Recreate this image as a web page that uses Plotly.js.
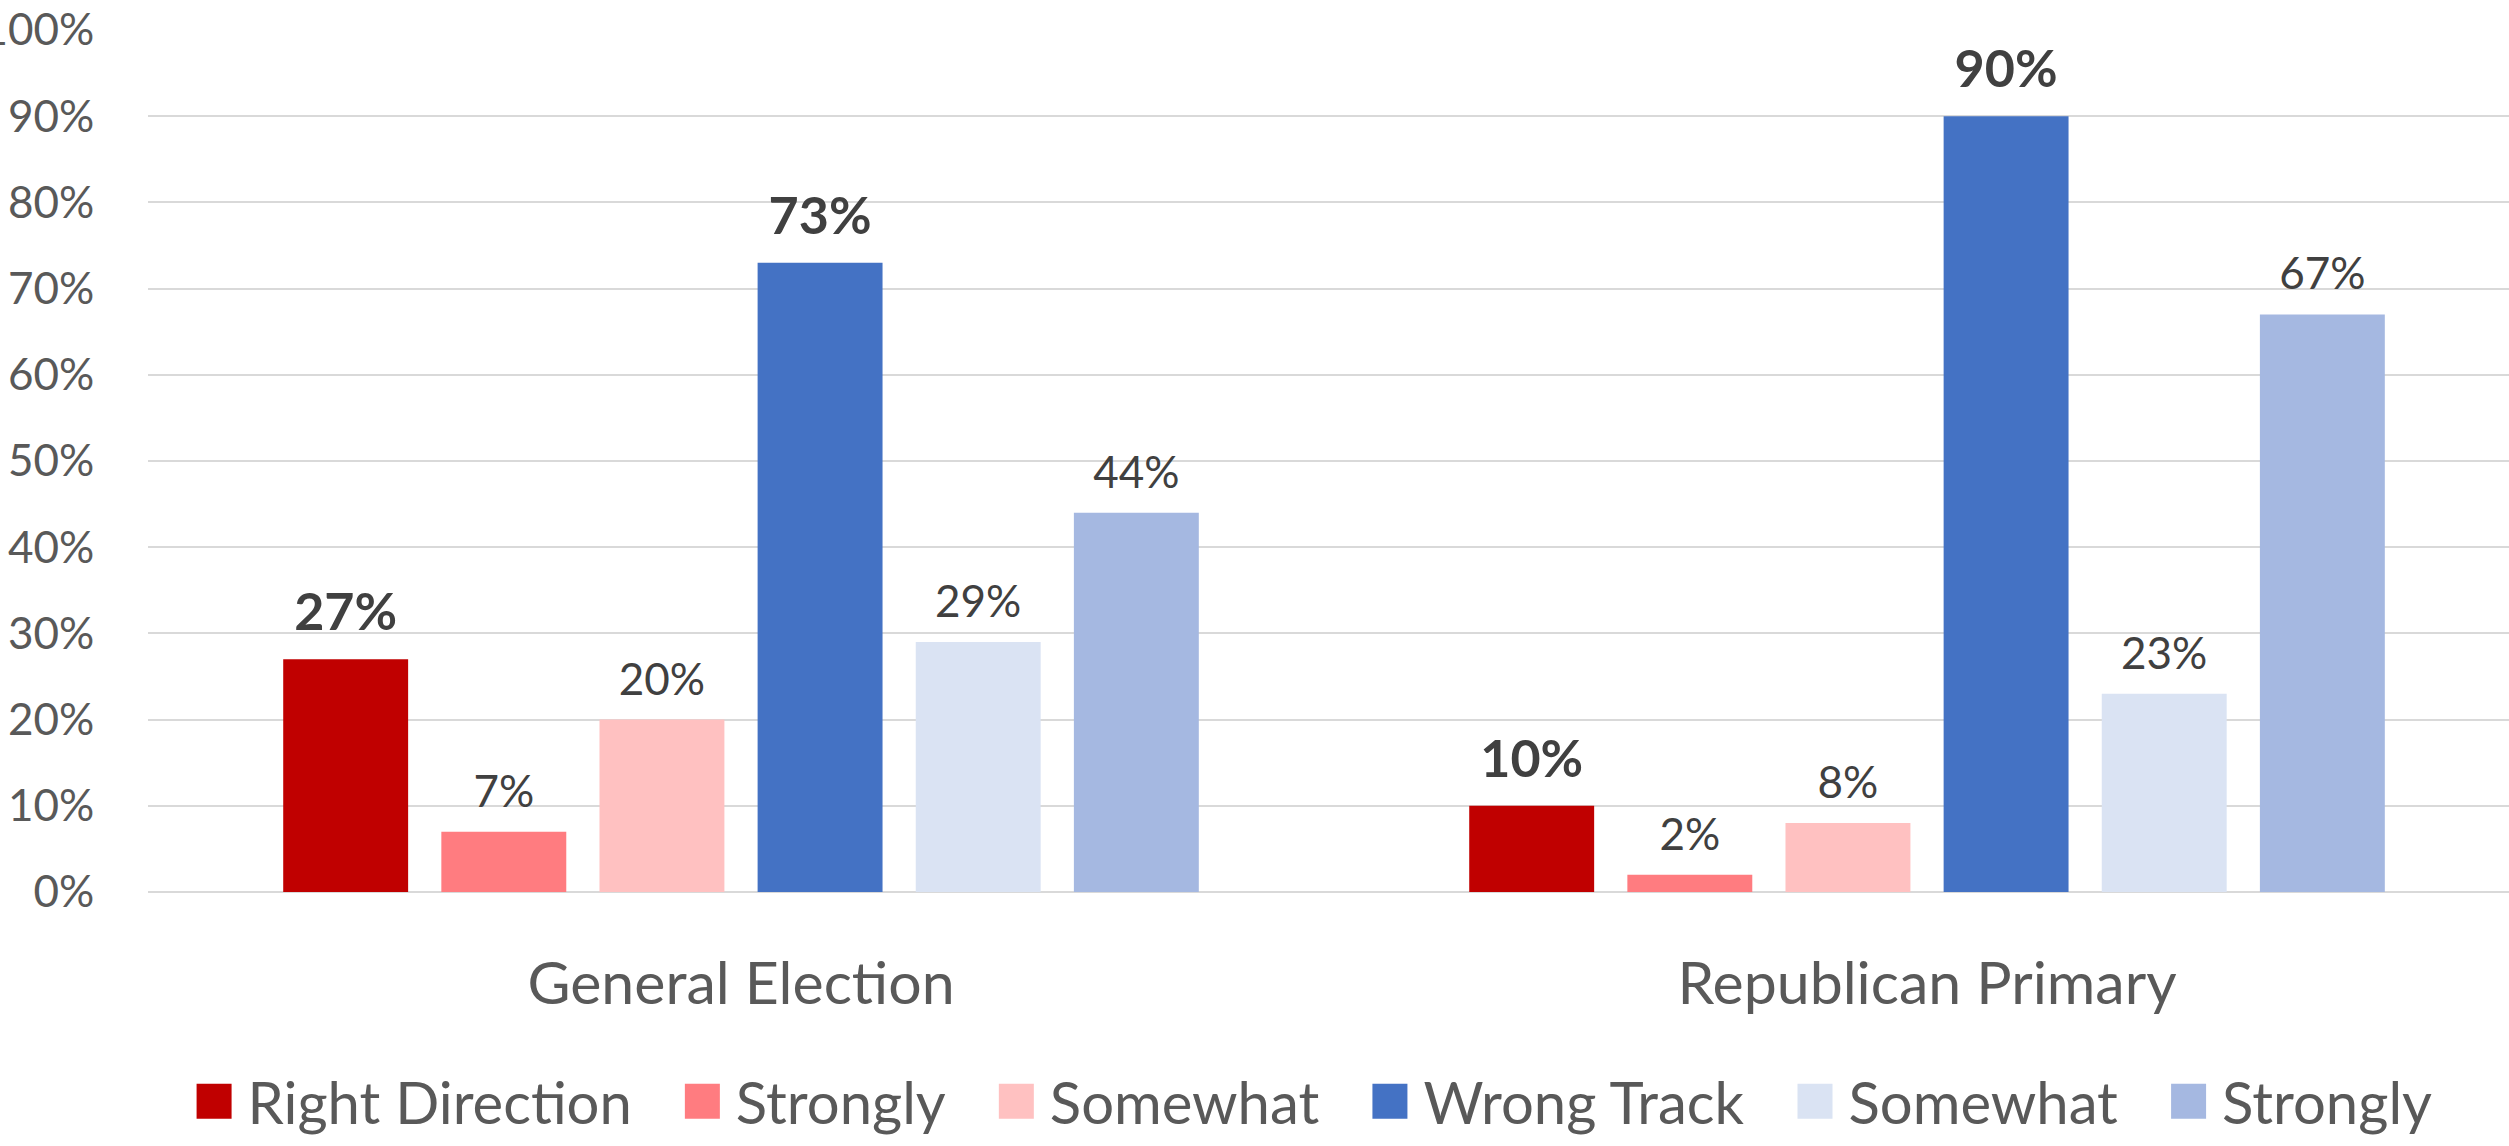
<!DOCTYPE html>
<html>
<head>
<meta charset="utf-8">
<script src="https://cdn.plot.ly/plotly-3.0.1.min.js"></script>
<style>html,body{margin:0;padding:0;background:#fff;overflow:hidden;}#chart{width:2509px;height:1146px;}</style>
</head>
<body>
<div id="chart"></div>
<script>
const categories = ['General Election', 'Republican Primary'];
const seriesNames = ['Right Direction', 'Strongly', 'Somewhat', 'Wrong Track', 'Somewhat', 'Strongly'];
const rightDirection = [0.27, 0.10];
const rightStrongly = [0.07, 0.02];
const rightSomewhat = [0.20, 0.08];
const wrongTrack = [0.73, 0.90];
const wrongSomewhat = [0.29, 0.23];
const wrongStrongly = [0.44, 0.67];
const yTickValues = [0, 0.1, 0.2, 0.3, 0.4, 0.5, 0.6, 0.7, 0.8, 0.9, 1.0];

const seriesValues = [rightDirection, rightStrongly, rightSomewhat, wrongTrack, wrongSomewhat, wrongStrongly];
const colors = ['#C00000', '#FF7C80', '#FFC1C1', '#4472C4', '#DAE3F3', '#A5B8E1'];
const isMain = [true, false, false, true, false, false];
const FONT = 'Lato, "Open Sans", sans-serif';

const traces = seriesValues.map((vals, i) => ({
  type: 'bar',
  name: seriesNames[i],
  x: categories,
  y: vals,
  marker: {color: colors[i], line: {width: 0}},
  text: vals.map(v => Math.round(v * 100) + '%'),
  textposition: 'outside',
  cliponaxis: false,
  textfont: isMain[i]
    ? {family: FONT, size: 52, color: '#404040', weight: 'bold'}
    : {family: FONT, size: 44, color: '#404040'},
  hoverinfo: 'skip'
}));

const layout = {
  width: 2509,
  height: 1146,
  margin: {l: 148, r: 0, t: 30, b: 249},
  paper_bgcolor: '#ffffff',
  plot_bgcolor: '#ffffff',
  barmode: 'group',
  bargap: 0.2,
  bargroupgap: 0.21,
  font: {family: FONT, color: '#595959'},
  showlegend: true,
  legend: {
    orientation: 'h',
    x: 0.485, xanchor: 'center',
    y: -0.243, yanchor: 'middle',
    font: {family: FONT, size: 58, color: '#595959'},
    itemwidth: 89,
    traceorder: 'normal',
    bgcolor: 'rgba(0,0,0,0)'
  },
  xaxis: {
    type: 'category',
    range: [-0.5, 1.4907],
    showgrid: false,
    showline: false,
    ticks: 'outside',
    ticklen: 40,
    tickcolor: 'rgba(0,0,0,0)',
    tickfont: {family: FONT, size: 59, color: '#595959'}
  },
  yaxis: {
    range: [0, 1],
    tickvals: yTickValues,
    tickformat: '.0%',
    showgrid: true,
    gridcolor: '#D9D9D9',
    gridwidth: 2,
    zeroline: true,
    zerolinecolor: '#D9D9D9',
    zerolinewidth: 2,
    showline: false,
    ticks: 'outside',
    ticklen: 44,
    tickcolor: 'rgba(0,0,0,0)',
    tickfont: {family: FONT, size: 44, color: '#595959'}
  }
};

Plotly.newPlot('chart', traces, layout, {staticPlot: true, displayModeBar: false}).then(gd => {
  // enlarge legend colour squares to match the reference swatches
  gd.querySelectorAll('.legend .traces').forEach(tr => {
    const p = tr.querySelector('.legendpoints path');
    const t = tr.querySelector('.legendtext');
    if (!p || !t) return;
    const textX = parseFloat(t.getAttribute('x')) || 0;
    const off = p.getCTM().e - tr.getCTM().e;
    const x1 = textX - 16 - off;
    const x0 = x1 - 35;
    p.setAttribute('d', 'M' + x1 + ',17.5H' + x0 + 'V-17.5H' + x1 + 'Z');
    p.style.strokeWidth = '0px';
  });
  // lift the value labels a little further above their bars
  gd.querySelectorAll('.barlayer .trace').forEach((tg, i) => {
    const lift = isMain[i] ? 15 : 13;
    tg.querySelectorAll('text.bartext').forEach(el => {
      const tf = el.getAttribute('transform') || '';
      el.setAttribute('transform', 'translate(0,' + (-lift) + ') ' + tf);
    });
  });
});
</script>
</body>
</html>
